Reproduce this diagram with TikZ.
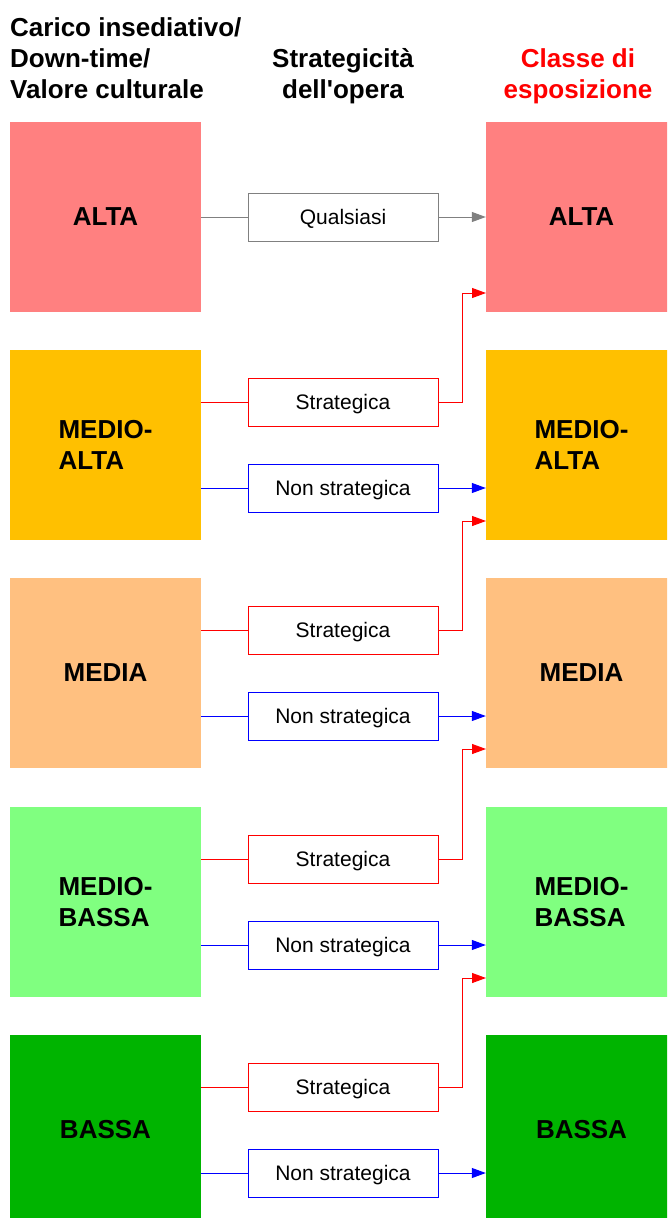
\documentclass[tikz,border=0pt]{standalone}
\usepackage{fontspec}
\setmainfont{Liberation Sans}
\usetikzlibrary{arrows.meta}
\definecolor{cAlta}{RGB}{255,128,128}
\definecolor{cMedioAlta}{RGB}{255,192,0}
\definecolor{cMedia}{RGB}{255,192,128}
\definecolor{cMedioBassa}{RGB}{128,255,128}
\definecolor{cBassa}{RGB}{0,180,0}
\definecolor{cGrey}{RGB}{128,128,128}
\begin{document}
\begin{tikzpicture}[x=1pt,y=-1pt,
  clsbox/.style={minimum width=191pt, minimum height=190pt, inner sep=0pt,
    font=\fontsize{26}{31}\selectfont\bfseries, align=left},
  hdr/.style={font=\fontsize{26}{31}\selectfont\bfseries, inner sep=0pt},
  midbox/.style={draw, fill=white, minimum width=190pt, minimum height=48pt,
    inner sep=0pt, line width=1pt, text height=15pt, text depth=0pt,
    font=\fontsize{21}{25}\selectfont},
  greyline/.style={draw=cGrey, line width=1pt},
  redline/.style={draw=red, line width=1pt},
  blueline/.style={draw=blue, line width=1pt},
  arr/.style={-{Triangle[length=14pt,width=10pt]}}
]
\clip (0,0) rectangle (667,1218);
\fill[white] (0,0) rectangle (667,1218);

% headers (base anchor = baseline of last line)
\node[hdr, align=left, anchor=base west] (h1) at (10,98) {Carico insediativo/\\Down-time/\\Valore culturale};
\node[hdr, align=center, anchor=base] (h2) at (343,98) {Strategicità\\dell\textquotesingle opera};
\node[hdr, align=center, anchor=base, text=red] (h3) at (578,98) {Classe di\\esposizione};

% class boxes
\node[clsbox, fill=cAlta] (l1) at (105.5,217) {ALTA};
\node[clsbox, fill=cMedioAlta] (l2) at (105.5,445) {MEDIO-\\ALTA};
\node[clsbox, fill=cMedia] (l3) at (105.5,673) {MEDIA};
\node[clsbox, fill=cMedioBassa] (l4) at (105.5,902) {MEDIO-\\BASSA};
\node[clsbox, fill=cBassa] (l5) at (105.5,1130) {BASSA};

\node[clsbox, fill=cAlta] (r1) at (581.5,217) {ALTA};
\node[clsbox, fill=cMedioAlta] (r2) at (581.5,445) {MEDIO-\\ALTA};
\node[clsbox, fill=cMedia] (r3) at (581.5,673) {MEDIA};
\node[clsbox, fill=cMedioBassa] (r4) at (581.5,902) {MEDIO-\\BASSA};
\node[clsbox, fill=cBassa] (r5) at (581.5,1130) {BASSA};

% middle boxes
\node[midbox, draw=cGrey] (q1) at (343,217) {Qualsiasi};
\foreach \i/\y in {2/445,3/673,4/902,5/1130}{
  \node[midbox, draw=red] (s\i) at (343,\y-43) {Strategica};
  \node[midbox, draw=blue] (n\i) at (343,\y+43) {Non strategica};
}

% entry points for upgraded class
\coordinate (e1) at (486,293);
\coordinate (e2) at (486,521);
\coordinate (e3) at (486,749);
\coordinate (e4) at (486,978);

% connectors
\draw[greyline] (l1.east |- q1.west) -- (q1.west);
\draw[greyline, arr] (q1.east) -- (q1.east -| r1.west);
\foreach \i/\p in {2/1,3/2,4/3,5/4}{
  \draw[redline] (l\i.east |- s\i.west) -- (s\i.west);
  \draw[redline, arr] (s\i.east) -- ++(24,0) |- (e\p);
  \draw[blueline] (l\i.east |- n\i.west) -- (n\i.west);
  \draw[blueline, arr] (n\i.east) -- (n\i.east -| r\i.west);
}
\end{tikzpicture}
\end{document}
